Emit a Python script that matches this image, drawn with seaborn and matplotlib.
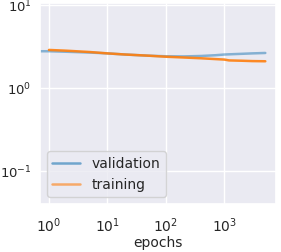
import numpy as np
import matplotlib
matplotlib.use("Agg")
import matplotlib.pyplot as plt
import seaborn as sns

sns.set_theme(style="darkgrid")

# values
val_epochs = [0, 1, 2, 5, 10, 20, 50, 100, 200, 400, 700, 1000, 2000, 3000, 5000]
val_loss = [2.78, 2.76, 2.72, 2.66, 2.60, 2.52, 2.44, 2.40, 2.39, 2.42, 2.47, 2.52, 2.57, 2.60, 2.63]

train_epochs = [1, 2, 5, 10, 20, 50, 100, 200, 400, 700, 1000, 1200, 2000, 3000, 5000]
train_loss = [2.86, 2.80, 2.70, 2.60, 2.52, 2.44, 2.37, 2.32, 2.27, 2.22, 2.19, 2.14, 2.12, 2.10, 2.09]

fig = plt.figure(figsize=(2.81, 2.53), dpi=100)
ax = fig.add_axes([0.142, 0.19, 0.84, 0.794])

sns.lineplot(x=val_epochs, y=val_loss, ax=ax, color="tab:blue", alpha=0.5,
             label="validation", lw=1.8)
sns.lineplot(x=train_epochs, y=train_loss, ax=ax, color="tab:orange", alpha=0.9,
             label="training", lw=1.8)

ax.set_xscale("log")
ax.set_yscale("log")
ax.set_xlim(0.7, 7600)
ax.set_ylim(0.04, 10.5)
ax.set_xlabel("epochs", fontsize=10, labelpad=1)
ax.tick_params(axis="x", labelsize=10, pad=2)
ax.tick_params(axis="y", labelsize=9.5, pad=0)
leg = ax.legend(loc="lower left", fontsize=10)
for h in leg.get_lines():
    h.set_alpha(0.6)

fig.savefig("out.png", dpi=100)
